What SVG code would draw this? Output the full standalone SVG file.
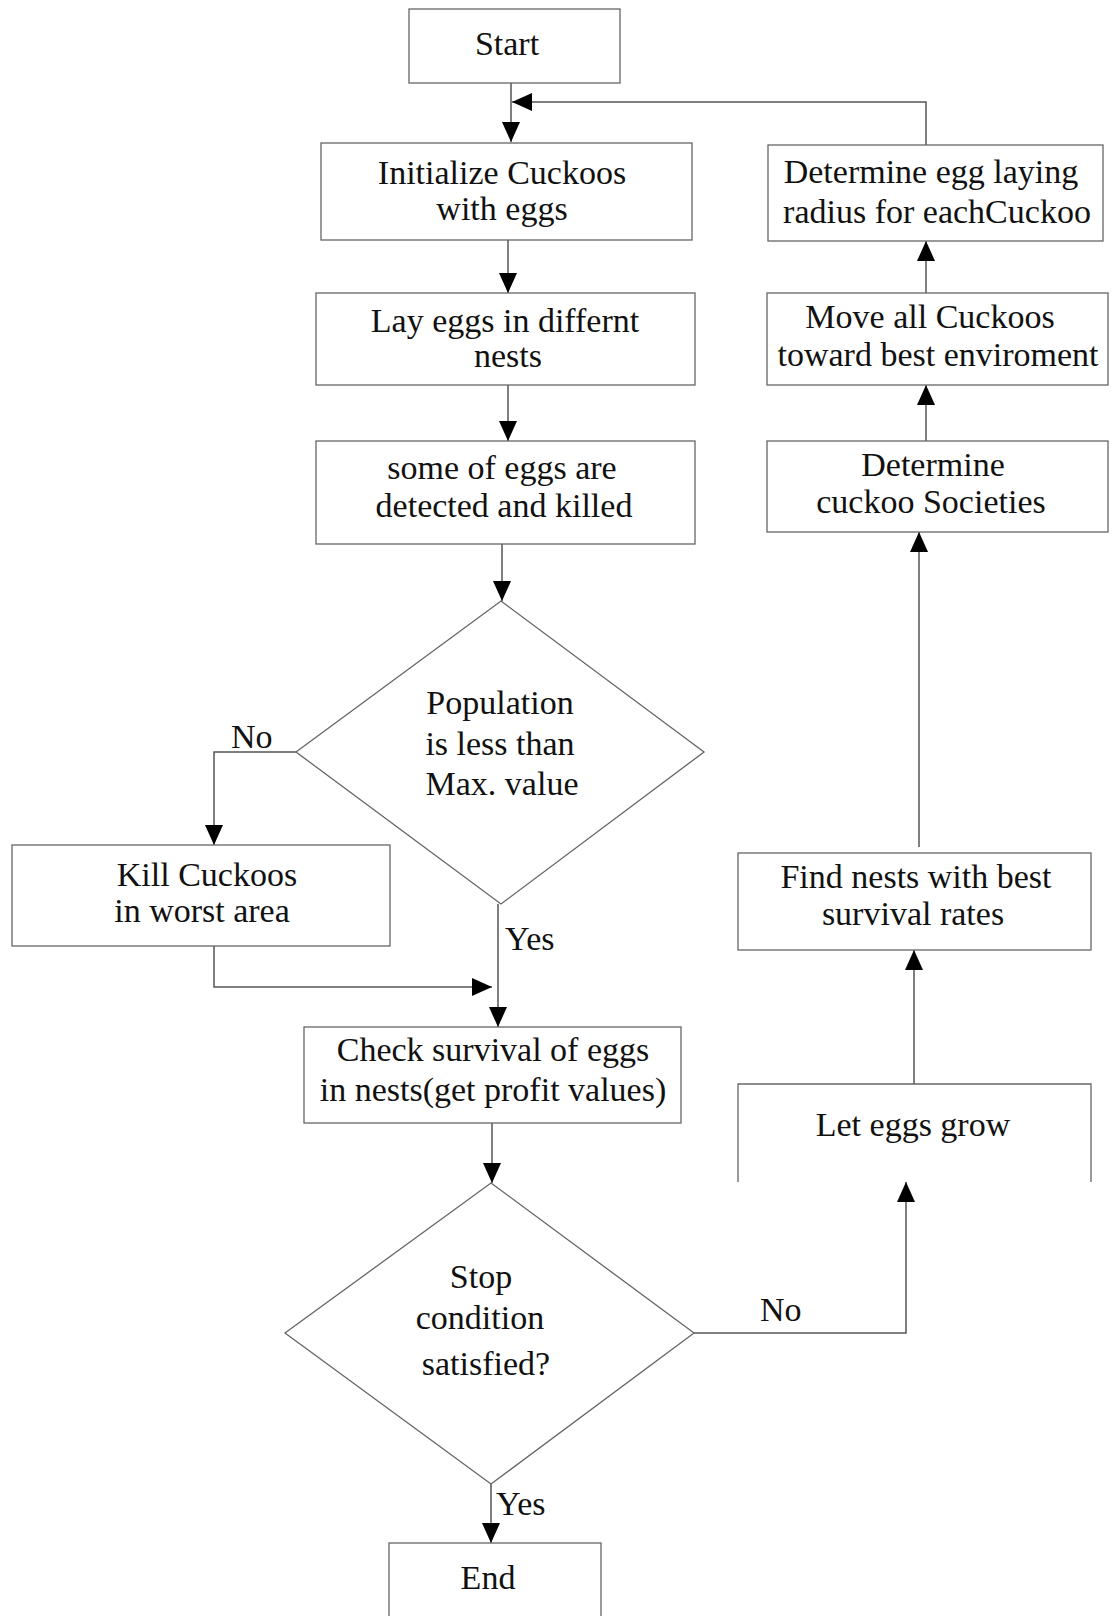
<svg xmlns="http://www.w3.org/2000/svg" width="1113" height="1616" viewBox="0 0 1113 1616">
<defs>
<style>
.box{fill:#fff;stroke:#666;stroke-width:1.3}
.ln{fill:none;stroke:#555;stroke-width:1.5}
text{font-family:"Liberation Serif","Times New Roman",serif;font-size:34px;fill:#111;text-anchor:middle}
.lbl{text-anchor:start}
</style>
<marker id="ah" markerUnits="userSpaceOnUse" markerWidth="20" markerHeight="18" viewBox="0 0 20 18" refX="20" refY="9" orient="auto">
<path d="M0,0 L20,9 L0,18 Z" fill="#000"/>
</marker>
</defs>
<rect width="1113" height="1616" fill="#fff"/>
<g id="connectors">
<line class="ln" x1="511" y1="83" x2="511" y2="142" marker-end="url(#ah)"/>
<polyline class="ln" points="926,145 926,102 512,102" marker-end="url(#ah)"/>
<line class="ln" x1="508" y1="240" x2="508" y2="293" marker-end="url(#ah)"/>
<line class="ln" x1="508" y1="385" x2="508" y2="441" marker-end="url(#ah)"/>
<line class="ln" x1="502" y1="544" x2="502" y2="601" marker-end="url(#ah)"/>
<polyline class="ln" points="296,752 214,752 214,845" marker-end="url(#ah)"/>
<line class="ln" x1="498" y1="904" x2="498" y2="1027" marker-end="url(#ah)"/>
<polyline class="ln" points="214,946 214,987 492,987" marker-end="url(#ah)"/>
<line class="ln" x1="492" y1="1123" x2="492" y2="1183" marker-end="url(#ah)"/>
<line class="ln" x1="491" y1="1484" x2="491" y2="1543" marker-end="url(#ah)"/>
<polyline class="ln" points="694,1333 906,1333 906,1182" marker-end="url(#ah)"/>
<line class="ln" x1="914" y1="1084" x2="914" y2="950" marker-end="url(#ah)"/>
<line class="ln" x1="919" y1="847" x2="919" y2="532" marker-end="url(#ah)"/>
<line class="ln" x1="926" y1="441" x2="926" y2="385" marker-end="url(#ah)"/>
<line class="ln" x1="926" y1="293" x2="926" y2="241" marker-end="url(#ah)"/>
<text class="lbl" x="231" y="748">No</text>
<text class="lbl" x="505" y="950">Yes</text>
<text class="lbl" x="496" y="1515">Yes</text>
<text class="lbl" x="760" y="1321">No</text>
</g>
<g id="start">
<rect class="box" x="409" y="9" width="211" height="74"/>
<text x="507" y="55">Start</text>
</g>
<g id="init">
<rect class="box" x="321" y="143" width="371" height="97"/>
<text x="502" y="184">Initialize Cuckoos</text>
<text x="502" y="220">with eggs</text>
</g>
<g id="lay">
<rect class="box" x="316" y="293" width="379" height="92"/>
<text x="505" y="332">Lay eggs in differnt</text>
<text x="508" y="367">nests</text>
</g>
<g id="detect">
<rect class="box" x="316" y="441" width="379" height="103"/>
<text x="502" y="479">some of eggs are</text>
<text x="504" y="517">detected and killed</text>
</g>
<g id="pop">
<polygon class="box" points="501,601 704,752 501,904 296,752"/>
<text x="500" y="714">Population</text>
<text x="500" y="755">is less than</text>
<text x="502" y="795">Max. value</text>
</g>
<g id="kill">
<rect class="box" x="12" y="845" width="378" height="101"/>
<text x="207" y="886">Kill Cuckoos</text>
<text x="202" y="922">in worst area</text>
</g>
<g id="check">
<rect class="box" x="304" y="1027" width="377" height="96"/>
<text x="493" y="1061">Check survival of eggs</text>
<text x="493" y="1101">in nests(get profit values)</text>
</g>
<g id="stop">
<polygon class="box" points="491,1183 694,1333 491,1484 285,1333"/>
<text x="481" y="1288">Stop</text>
<text x="480" y="1329">condition</text>
<text x="486" y="1375">satisfied?</text>
</g>
<g id="end">
<rect class="box" x="389" y="1543" width="212" height="90"/>
<text x="488" y="1589">End</text>
</g>
<g id="grow">
<path class="box" d="M738,1182 V1084 H1091 V1182" />
<text x="913" y="1136">Let eggs grow</text>
</g>
<g id="find">
<rect class="box" x="738" y="853" width="353" height="97"/>
<text x="916" y="888">Find nests with best</text>
<text x="913" y="925">survival rates</text>
</g>
<g id="societies">
<rect class="box" x="767" y="441" width="341" height="91"/>
<text x="933" y="476">Determine</text>
<text x="931" y="513">cuckoo Societies</text>
</g>
<g id="move">
<rect class="box" x="767" y="293" width="341" height="92"/>
<text x="930" y="328">Move all Cuckoos</text>
<text x="938" y="366">toward best enviroment</text>
</g>
<g id="radius">
<rect class="box" x="768" y="145" width="335" height="96"/>
<text x="931" y="183">Determine egg laying</text>
<text x="937" y="223">radius for eachCuckoo</text>
</g>
</svg>
